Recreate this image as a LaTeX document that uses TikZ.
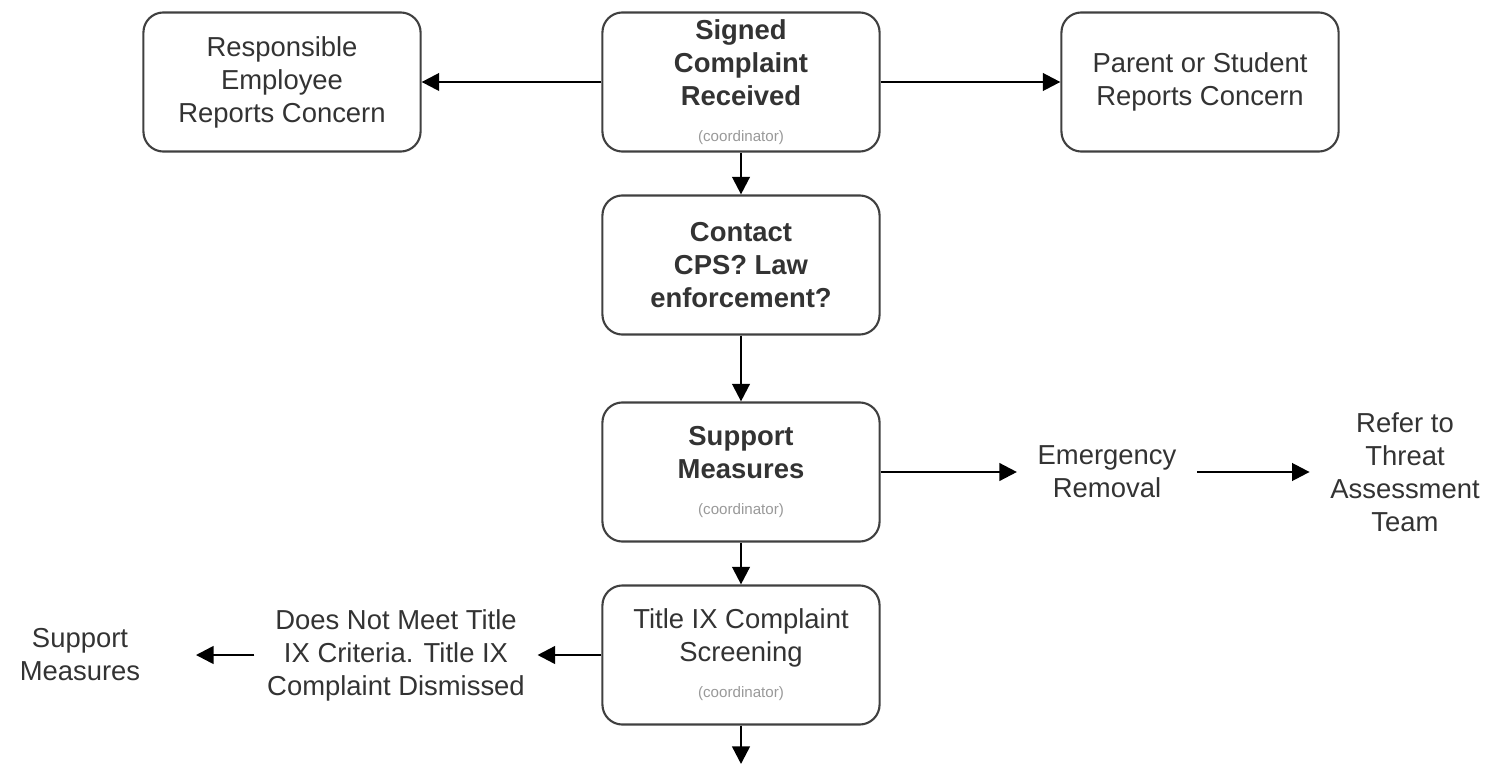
\documentclass[tikz,border=0pt]{standalone}
\usepackage{fontspec}
\setmainfont{Liberation Sans}
\usetikzlibrary{arrows.meta}

\newcommand{\coordnote}{{\fontsize{4.3}{5}\selectfont\color{black!40}(coordinator)}}

\begin{document}
\begin{tikzpicture}[x=0.01cm,y=-0.01cm,
  box/.style={draw=black!75, line width=0.6pt, rounded corners=0.2cm,
    minimum width=2.77cm, minimum height=1.39cm, align=center,
    font=\fontsize{7.8}{9.4}\selectfont, text=black!80, inner sep=0pt},
  plain/.style={align=center, font=\fontsize{7.8}{9.4}\selectfont,
    text=black!80, inner sep=0.2cm},
  link/.style={-{Triangle[length=5pt,width=5pt]}, line width=0.7pt}]
\useasboundingbox (0,0) rectangle (1486,764);

% boxes
\node [box] (signed) at (741,82) {\bfseries Signed\\\bfseries Complaint\\\bfseries Received\\[0.8pt]\coordnote};
\node [box] (employee) at (282,82) {Responsible\\Employee\\Reports Concern};
\node [box] (parent) at (1200,82) {Parent or Student\\Reports Concern};
\node [box] (contact) at (741,265) {\bfseries Contact\\\bfseries CPS? Law\\\bfseries enforcement?};
\node [box] (support) at (741,472) {\bfseries Support\\\bfseries Measures\\[0.8pt]\coordnote};
\node [box] (screening) at (741,655) {Title IX Complaint\\Screening\\[0.8pt]\coordnote};

% plain text steps
\node [plain] (removal) at (1107,472) {Emergency\\Removal};
\node [plain] (threat) at (1405,472) {Refer to\\Threat\\Assessment\\Team};
\node [plain, inner sep=0.12cm] (dismissed) at (396,655) {Does Not Meet Title\\IX Criteria. Title IX\\Complaint Dismissed};
\node [plain] (measures) at (80,655) {Support\\Measures};
\coordinate (next) at (741,764);

% connectors
\draw [link] (signed.west) -- (employee.east);
\draw [link] (signed.east) -- (parent.west);
\draw [link] (signed.south) -- (contact.north);
\draw [link] (contact.south) -- (support.north);
\draw [link] (support.east) -- (removal.west);
\draw [link] (removal.east) -- (threat.west);
\draw [link] (support.south) -- (screening.north);
\draw [link] (screening.west) -- (dismissed.east);
\draw [link, shorten >=0.35cm] (dismissed.west) -- (measures.east);
\draw [link] (screening.south) -- (next);
\end{tikzpicture}
\end{document}
